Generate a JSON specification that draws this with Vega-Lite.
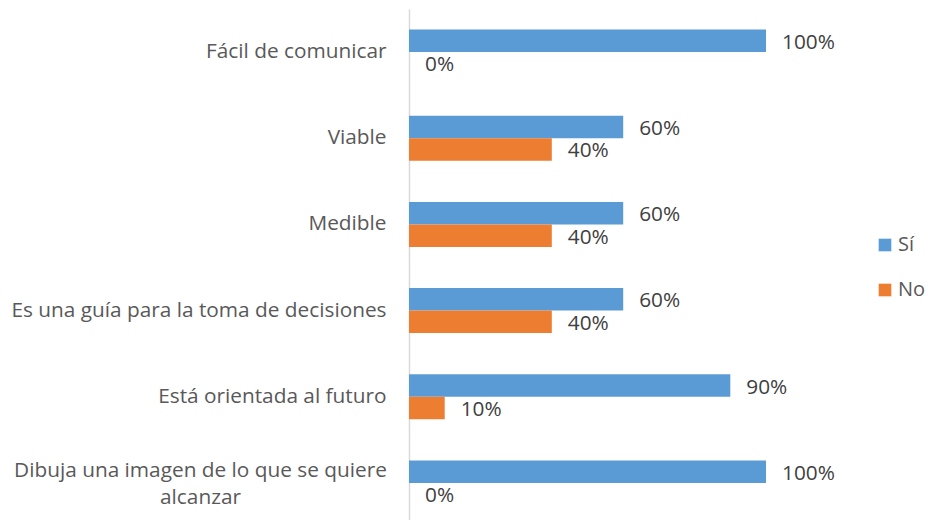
{
  "$schema": "https://vega.github.io/schema/vega-lite/v6.json",
  "width": 357,
  "height": 511,
  "autosize": {"type": "none"},
  "padding": {"left": 409, "top": 9, "right": 162, "bottom": 0},
  "background": "white",
  "config": {
    "view": {"stroke": null},
    "font": "Open Sans",
    "text": {"font": "Open Sans"}
  },
  "data": {
    "values": [
      {"cat": "Fácil de comunicar", "serie": "Sí", "valor": 1.0},
      {"cat": "Fácil de comunicar", "serie": "No", "valor": 0},
      {"cat": "Viable", "serie": "Sí", "valor": 0.6},
      {"cat": "Viable", "serie": "No", "valor": 0.4},
      {"cat": "Medible", "serie": "Sí", "valor": 0.6},
      {"cat": "Medible", "serie": "No", "valor": 0.4},
      {"cat": "Es una guía para la toma de decisiones", "serie": "Sí", "valor": 0.6},
      {"cat": "Es una guía para la toma de decisiones", "serie": "No", "valor": 0.4},
      {"cat": "Está orientada al futuro", "serie": "Sí", "valor": 0.9},
      {"cat": "Está orientada al futuro", "serie": "No", "valor": 0.1},
      {"cat": "Dibuja una imagen de lo que se quiere alcanzar", "serie": "Sí", "valor": 1.0},
      {"cat": "Dibuja una imagen de lo que se quiere alcanzar", "serie": "No", "valor": 0}
    ]
  },
  "encoding": {
    "y": {
      "field": "cat",
      "type": "nominal",
      "sort": null,
      "scale": {"paddingInner": 0.478, "paddingOuter": 0.203, "align": 0.586},
      "axis": {
        "title": null,
        "ticks": false,
        "domainColor": "#D9D9D9",
        "domainWidth": 1.5,
        "labelFont": "Open Sans",
        "labelFontSize": 20.8,
        "labelColor": "#595959",
        "labelLimit": 0,
        "labelLineHeight": 27,
        "labelExpr": "datum.value == 'Dibuja una imagen de lo que se quiere alcanzar' ? ['Dibuja una imagen de lo que se quiere', 'alcanzar'] : datum.label",
        "labelAlign": {"condition": {"test": "datum.value == 'Dibuja una imagen de lo que se quiere alcanzar'", "value": "center"}, "value": "right"},
        "labelPadding": {"condition": {"test": "datum.value == 'Dibuja una imagen de lo que se quiere alcanzar'", "value": 209}, "value": 23},
        "labelOffset": {"condition": {"test": "datum.value == 'Dibuja una imagen de lo que se quiere alcanzar'", "value": -12}, "value": 0}
      }
    },
    "yOffset": {
      "field": "serie",
      "type": "nominal",
      "sort": ["Sí", "No"],
      "scale": {"paddingInner": 0, "paddingOuter": 0}
    },
    "x": {
      "field": "valor",
      "type": "quantitative",
      "scale": {"domain": [0, 1], "nice": false},
      "axis": null
    }
  },
  "layer": [
    {
      "mark": {"type": "bar"},
      "encoding": {
        "color": {
          "field": "serie",
          "type": "nominal",
          "sort": ["Sí", "No"],
          "scale": {"domain": ["Sí", "No"], "range": ["#5B9BD5", "#ED7D31"]},
          "legend": {
            "title": null,
            "orient": "none",
            "legendX": 466,
            "legendY": 226,
            "symbolType": "square",
            "symbolSize": 160,
            "symbolStrokeWidth": 0,
            "labelFont": "Open Sans",
            "labelFontSize": 20,
            "labelColor": "#595959",
            "labelLimit": 0,
            "rowPadding": 25,
            "labelOffset": 3
          }
        }
      }
    },
    {
      "mark": {"type": "text", "align": "left", "baseline": "middle", "dx": 16, "dy": 2, "fontSize": 20.8, "color": "#404040", "font": "Open Sans"},
      "encoding": {
        "text": {"field": "valor", "type": "quantitative", "format": ".0%"},
        "detail": {"field": "serie"}
      }
    }
  ]
}
